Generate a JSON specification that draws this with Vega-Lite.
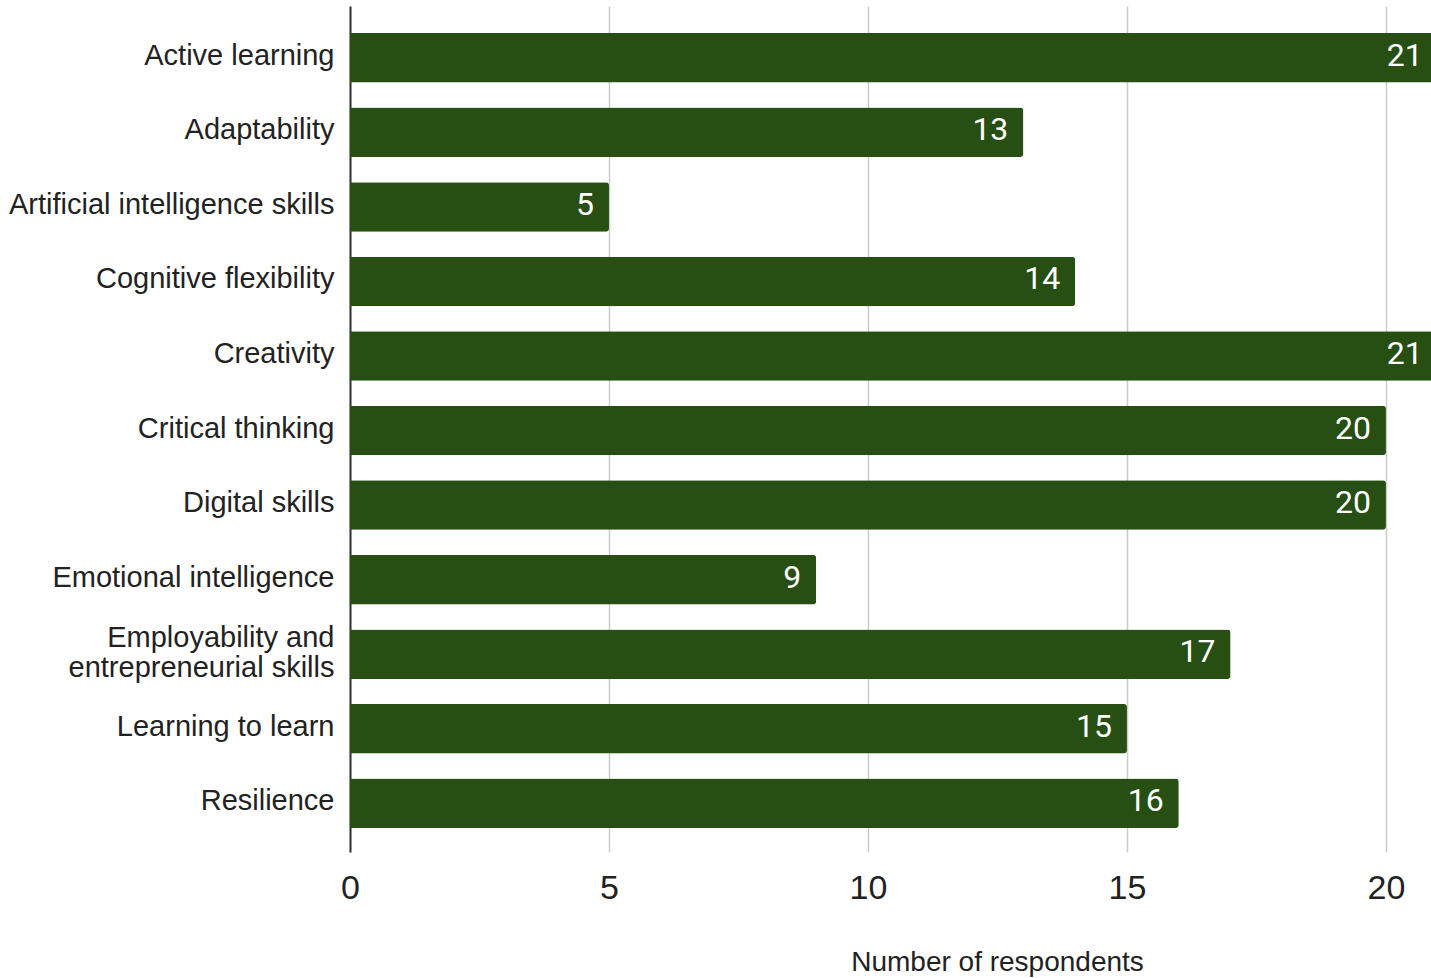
{
  "$schema": "https://vega.github.io/schema/vega-lite/v6.json",
  "autosize": "none",
  "width": 1081,
  "height": 846,
  "padding": {"left": 350, "top": 6, "right": 0, "bottom": 126},
  "background": "white",
  "config": {"view": {"stroke": null}},
  "data": {
    "values": [
      {"skill": "Active learning", "count": 21},
      {"skill": "Adaptability", "count": 13},
      {"skill": "Artificial intelligence skills", "count": 5},
      {"skill": "Cognitive flexibility", "count": 14},
      {"skill": "Creativity", "count": 21},
      {"skill": "Critical thinking", "count": 20},
      {"skill": "Digital skills", "count": 20},
      {"skill": "Emotional intelligence", "count": 9},
      {"skill": "Employability and entrepreneurial skills", "count": 17},
      {"skill": "Learning to learn", "count": 15},
      {"skill": "Resilience", "count": 16}
    ]
  },
  "encoding": {
    "y": {
      "field": "skill",
      "type": "nominal",
      "sort": null,
      "scale": {"paddingInner": 0.336, "paddingOuter": 0.342, "align": 0.53},
      "axis": {
        "title": null,
        "ticks": false,
        "domain": true,
        "domainColor": "#333333",
        "domainWidth": 2,
        "labelFont": "Liberation Sans",
        "labelFontSize": 29,
        "labelColor": "#222222",
        "labelPadding": 16,
        "labelLimit": 400,
        "labelLineHeight": 30,
        "labelOffset": {"condition": {"test": "datum.value == 'Employability and entrepreneurial skills'", "value": -16}, "value": -2},
        "labelExpr": "datum.label == 'Employability and entrepreneurial skills' ? ['Employability and', 'entrepreneurial skills'] : datum.label"
      }
    },
    "x": {
      "field": "count",
      "type": "quantitative",
      "scale": {"domain": [0, 20.87], "nice": false, "zero": true},
      "axis": {
        "values": [0, 5, 10, 15, 20],
        "domain": false,
        "ticks": false,
        "grid": true,
        "gridColor": "#cccccc",
        "gridWidth": 1.5,
        "labelFont": "Liberation Sans",
        "labelFontSize": 34,
        "labelColor": "#222222",
        "labelBaseline": "alphabetic",
        "labelPadding": 46,
        "labelFlush": false,
        "title": "Number of respondents",
        "titleFont": "Liberation Sans",
        "titleFontSize": 28,
        "titleFontWeight": "normal",
        "titleColor": "#222222",
        "titleX": 647,
        "titleY": 110,
        "titleAlign": "center",
        "titleBaseline": "middle"
      }
    }
  },
  "layer": [
    {
      "mark": {"type": "bar", "color": "#274e13", "cornerRadiusEnd": 3}
    },
    {
      "mark": {
        "type": "text",
        "align": "right",
        "baseline": "middle",
        "dx": -15,
        "dy": -2,
        "color": "white",
        "font": "Roboto",
        "fontSize": 32
      },
      "encoding": {"text": {"field": "count", "type": "quantitative"}}
    }
  ]
}
